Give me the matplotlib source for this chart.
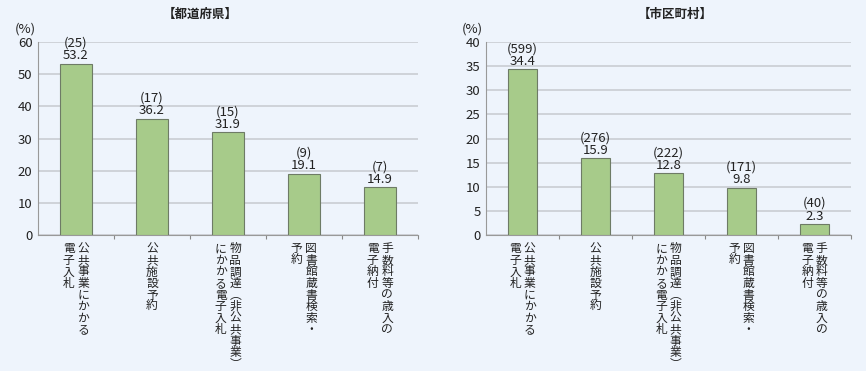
import matplotlib
matplotlib.use("Agg")
import matplotlib.pyplot as plt

plt.rcParams['font.family'] = ['Noto Sans CJK JP', 'DejaVu Sans']

# column texts for the vertical labels (right column first, as read)
categoryColumns = [
    ["公共事業にかかる", "電子入札"],
    ["公共施設予約"],
    ["物品調達︵非公共事業︶", "にかかる電子入札"],
    ["図書館蔵書検索・", "予約"],
    ["手数料等の歳入の", "電子納付"],
]

prefValues = [53.2, 36.2, 31.9, 19.1, 14.9]
prefCounts = [25, 17, 15, 9, 7]
muniValues = [34.4, 15.9, 12.8, 9.8, 2.3]
muniCounts = [599, 276, 222, 171, 40]

BG = '#EEF4FC'
BAR = '#A7CB8A'
TXT = '#222222'
CHAR_STEP = 8.3  # pt between stacked characters


def DrawPanel(ax, values, counts, ymax, ystep):
    ax.set_facecolor(BG)
    xs = range(len(values))
    ax.bar(xs, values, width=0.41, color=BAR, edgecolor='#6E7B66', linewidth=0.8, zorder=3)
    ax.set_xlim(-0.5, len(values) - 0.5)
    ax.set_ylim(0, ymax)
    ax.set_yticks(range(0, ymax + 1, ystep))
    ax.yaxis.grid(True, color='#C9CDD3', linewidth=1.2, zorder=0)
    ax.tick_params(axis='y', length=0, labelsize=9.5, colors=TXT, pad=4)
    ax.set_xticks([i + 0.5 for i in range(len(values))])
    ax.tick_params(axis='x', length=3, direction='out', color='#888888', labelbottom=False)
    for s in ['top', 'right']:
        ax.spines[s].set_visible(False)
    for s in ['left', 'bottom']:
        ax.spines[s].set_color('#999999')
    for i, (v, n) in enumerate(zip(values, counts)):
        ax.annotate("(%d)\n%.1f" % (n, v), xy=(i, v), xytext=(0, 1), textcoords='offset points',
                    ha='center', va='bottom', fontsize=9.5, color=TXT, linespacing=0.95)
    # vertical (tategaki) labels, one character at a time
    for i, cols in enumerate(categoryColumns):
        k = len(cols)
        for j, col in enumerate(cols):
            dx = (k - 1) * 5.2 - j * 10.4
            for c, ch in enumerate(col):
                ax.annotate(ch, xy=(i, 0), xycoords=('data', 'axes fraction'),
                            xytext=(dx, -10 - c * CHAR_STEP), textcoords='offset points',
                            ha='center', va='center', fontsize=8.5, color=TXT)


fig = plt.figure(figsize=(8.66, 3.71), dpi=100)
fig.patch.set_facecolor(BG)

axLeft = fig.add_axes([38 / 866, 136 / 371, 380 / 866, 193 / 371])
axRight = fig.add_axes([486 / 866, 136 / 371, 365 / 866, 193 / 371])

DrawPanel(axLeft, prefValues, prefCounts, 60, 10)
DrawPanel(axRight, muniValues, muniCounts, 40, 5)

fig.text(200 / 866, 1 - 14 / 371, "【都道府県】", ha='center', va='center', fontsize=9,
         fontweight='bold', color=TXT)
fig.text(675 / 866, 1 - 14 / 371, "【市区町村】", ha='center', va='center', fontsize=9,
         fontweight='bold', color=TXT)
fig.text(25 / 866, 1 - 29 / 371, "(%)", ha='center', va='center', fontsize=9.5, color=TXT)
fig.text(472 / 866, 1 - 29 / 371, "(%)", ha='center', va='center', fontsize=9.5, color=TXT)

fig.savefig("out.png", dpi=100, facecolor=BG)
